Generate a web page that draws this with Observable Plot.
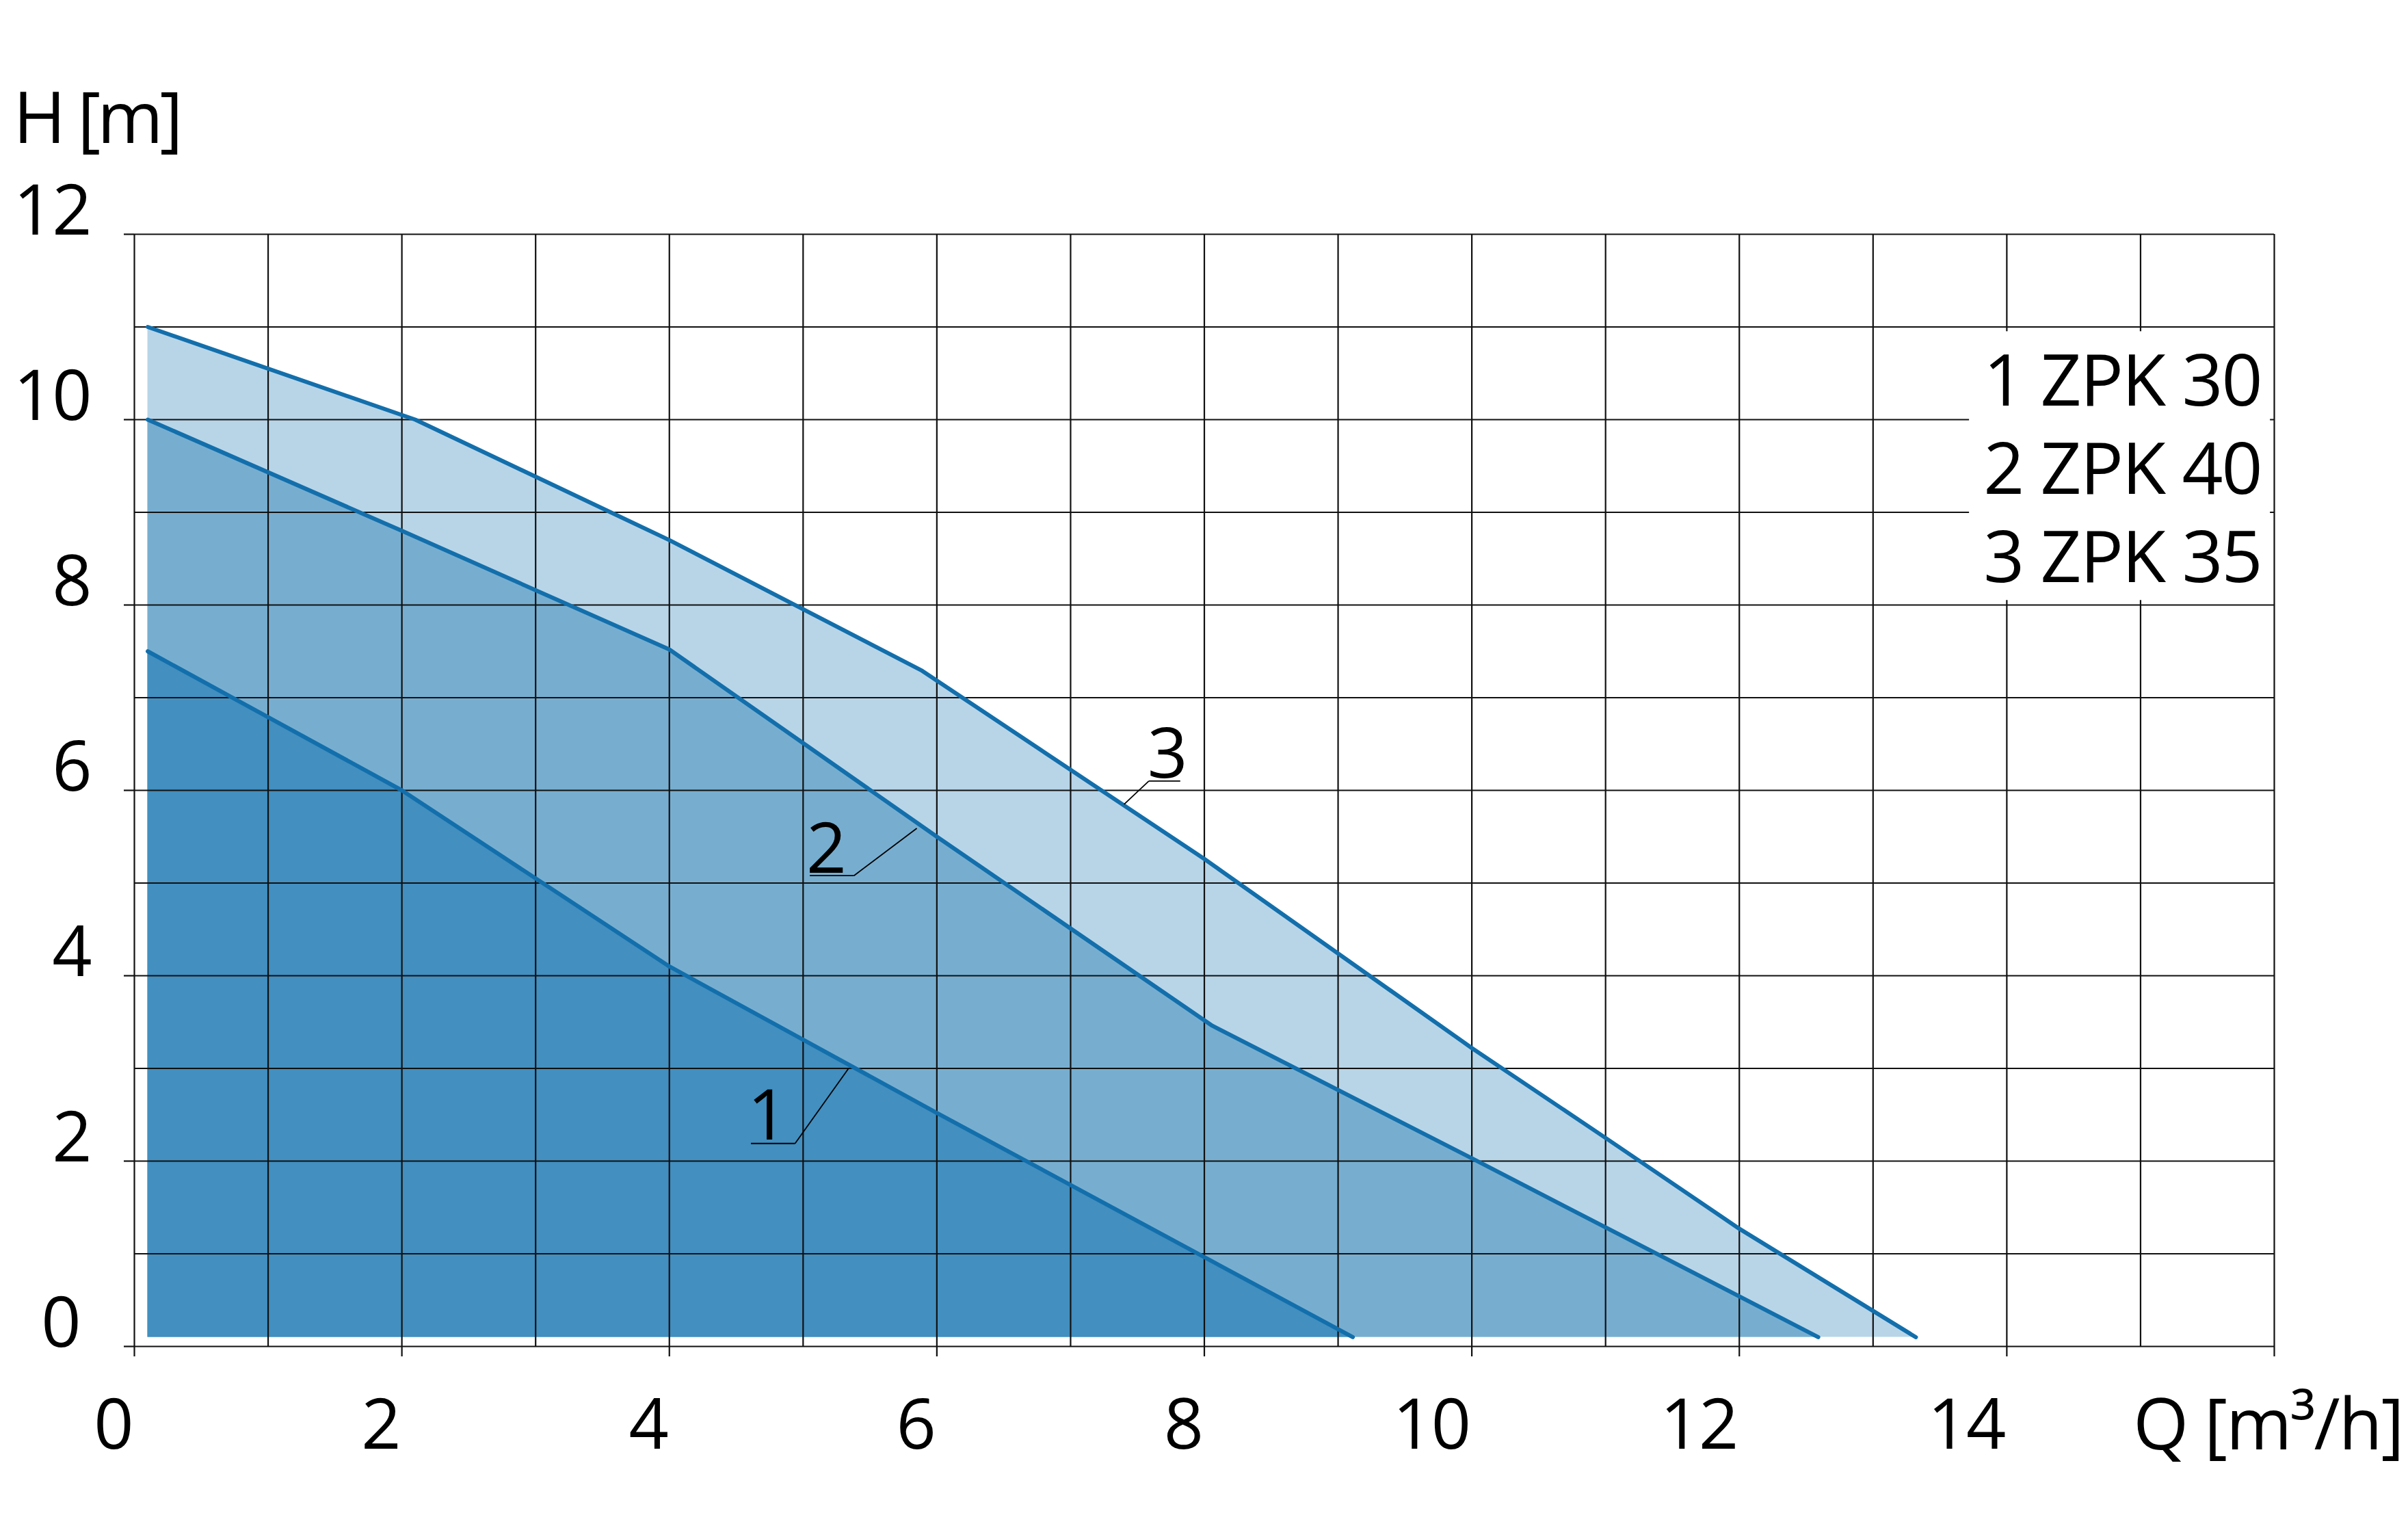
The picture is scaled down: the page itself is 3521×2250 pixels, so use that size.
<!DOCTYPE html>
<html>
<head>
<meta charset="utf-8">
<script src="https://cdn.jsdelivr.net/npm/d3@7"></script>
<script src="https://cdn.jsdelivr.net/npm/@observablehq/plot@0.6"></script>
<style>
  html, body { margin: 0; padding: 0; background: #fff; overflow: hidden; }
  #chart svg { display: block; }
</style>
</head>
<body>
<div id="chart"></div>
<script>
// ---- data (Q in m³/h, H in m) ----
const q1 = [0.1, 2, 4, 6, 9.11];
const h1 = [7.5, 6.0, 4.1, 2.52, 0.1];
const q2 = [0.1, 2, 4, 6, 8.06, 10, 12.59];
const h2 = [10.0, 8.8, 7.52, 5.5, 3.46, 2.03, 0.1];
const q3 = [0.1, 2.1, 4, 5.89, 8, 10, 11, 12, 13.32];
const h3 = [11.0, 10.0, 8.7, 7.29, 5.26, 3.22, 2.25, 1.27, 0.1];
const seriesNames = ["1 ZPK 30", "2 ZPK 40", "3 ZPK 35"];
const seriesIds = ["1", "2", "3"];
const xTickLabels = [0, 2, 4, 6, 8, 10, 12, 14];
const yTickLabels = [0, 2, 4, 6, 8, 10, 12];
const xGrid = d3.range(0, 17);
const yGrid = d3.range(0, 13);
const baseH = 0.1;
// callouts (data coordinates)
const calloutTouchQ = [5.34, 5.85, 7.40];
const calloutTouchH = [3.0, 5.59, 5.85];
const calloutElbowQ = [4.94, 5.38, 7.585];
const calloutElbowH = [2.19, 5.08, 6.10];
const calloutEndQ = [4.61, 5.05, 7.82];
const calloutTextQ = [4.73, 5.17, 7.72];
const calloutTextH = [2.23, 5.11, 6.14];
// legend box extent (data coordinates)
const legendBoxQ = [13.72, 15.97];
const legendBoxH = [8.05, 10.95];

const rows = (qs, hs, id) => qs.map((q, i) => ({q, h: hs[i], id}));
const c1 = rows(q1, h1, "1"), c2 = rows(q2, h2, "2"), c3 = rows(q3, h3, "3");

const font = "'Open Sans', 'Noto Sans', sans-serif";
const ink = "#111";
const curveColor = "#136fab";
const fills = {"1": "#428fc0", "2": "#77aed0", "3": "#b8d5e8"};

const callouts = seriesIds.map((id, i) => ({id, i}));

const plot = Plot.plot({
  width: 3521,
  height: 2250,
  marginLeft: 196,
  marginRight: 196,
  marginTop: 342,
  marginBottom: 282,
  x: {domain: [0, 16], label: null},
  y: {domain: [0, 12], label: null},
  style: {fontFamily: font, background: "#fff", color: "#000", overflow: "visible"},
  marks: [
    Plot.areaY(c3, {x: "q", y1: baseH, y2: "h", fill: fills["3"]}),
    Plot.areaY(c2, {x: "q", y1: baseH, y2: "h", fill: fills["2"]}),
    Plot.areaY(c1, {x: "q", y1: baseH, y2: "h", fill: fills["1"]}),
    Plot.ruleX(xGrid, {x: d => d, y1: 0, y2: 12, stroke: ink, strokeWidth: 2.2}),
    Plot.ruleY(yGrid, {y: d => d, x1: 0, x2: 16, stroke: ink, strokeWidth: 2.2}),
    Plot.rect([0], {x1: legendBoxQ[0], x2: legendBoxQ[1], y1: legendBoxH[0], y2: legendBoxH[1], fill: "#fff"}),
    Plot.axisX(xTickLabels.concat([16]), {tickSize: 15, stroke: ink, strokeWidth: 2.2, fill: "none", label: null, tickFormat: () => ""}),
    Plot.axisY(yTickLabels, {tickSize: 15, stroke: ink, strokeWidth: 2.2, fill: "none", label: null, tickFormat: () => ""}),
    Plot.line(c3, {x: "q", y: "h", stroke: curveColor, strokeWidth: 6, strokeLinecap: "round", strokeLinejoin: "round"}),
    Plot.line(c2, {x: "q", y: "h", stroke: curveColor, strokeWidth: 6, strokeLinecap: "round", strokeLinejoin: "round"}),
    Plot.line(c1, {x: "q", y: "h", stroke: curveColor, strokeWidth: 6, strokeLinecap: "round", strokeLinejoin: "round"}),
    // callout leaders
    Plot.link(callouts, {x1: d => calloutElbowQ[d.i], y1: d => calloutElbowH[d.i], x2: d => calloutTouchQ[d.i], y2: d => calloutTouchH[d.i], stroke: "#000", strokeWidth: 1.8}),
    Plot.link(callouts, {x1: d => calloutElbowQ[d.i], y1: d => calloutElbowH[d.i], x2: d => calloutEndQ[d.i], y2: d => calloutElbowH[d.i], stroke: "#000", strokeWidth: 1.8}),
    Plot.text(callouts, {x: d => calloutTextQ[d.i], y: d => calloutTextH[d.i], text: d => d.id, textAnchor: "middle", lineAnchor: "bottom", fontSize: 103, fill: "#000"}),
    // tick labels
    Plot.text(xTickLabels, {x: d => d, y: 0, text: d => String(d), textAnchor: "end", lineAnchor: "top", dx: -3, dy: 77, fontSize: 102, fill: "#000"}),
    Plot.text(yTickLabels.filter(d => d !== 0), {x: 0, y: d => d, text: d => String(d), textAnchor: "end", lineAnchor: "bottom", dx: -64, fontSize: 102, fill: "#000"}),
    Plot.text(yTickLabels.filter(d => d === 0), {x: 0, y: d => d, text: d => String(d), textAnchor: "end", lineAnchor: "bottom", dx: -80, fontSize: 102, fill: "#000"}),
    // axis titles
    Plot.text(["H [m]"], {frameAnchor: "top-left", text: d => d, textAnchor: "start", lineAnchor: "bottom", dx: -177, dy: -134, fontSize: 104, fill: "#000", className: "tight"}),
    Plot.text(["Q [m³/h]"], {frameAnchor: "bottom-right", text: d => d, textAnchor: "end", lineAnchor: "bottom", dx: 188, dy: 150, fontSize: 104, fill: "#000"}),
    // legend
    ...seriesNames.map((name, i) => Plot.text([name], {frameAnchor: "top-right", text: d => d, textAnchor: "end", lineAnchor: "bottom", dx: -19, dy: 250 + i * 129, fontSize: 105, fill: "#000"}))
  ]
});

d3.select(plot).selectAll("text").attr("letter-spacing", "-2");
d3.select(plot).selectAll(".tight text").attr("letter-spacing", "-5");
document.getElementById("chart").appendChild(plot);
</script>
</body>
</html>
